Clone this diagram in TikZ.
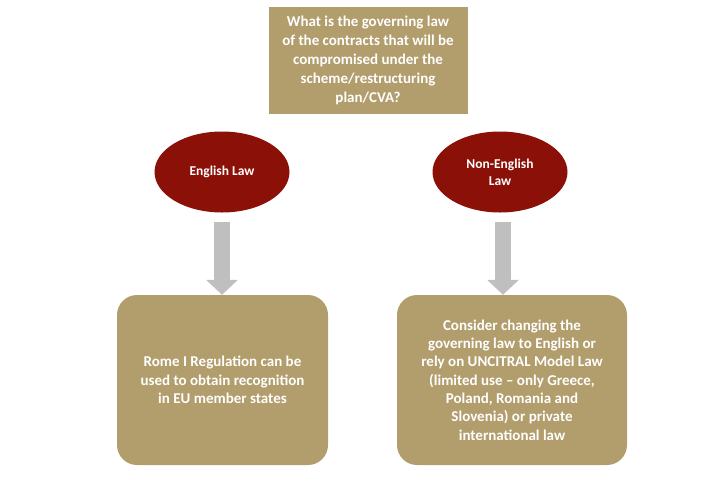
\documentclass[tikz,border=0pt]{standalone}
\usepackage{fontspec}
\setmainfont{Carlito}
\usetikzlibrary{shapes.geometric,arrows.meta,positioning}
\definecolor{boxtan}{RGB}{178,157,108}
\definecolor{lawred}{RGB}{139,17,8}
\definecolor{arrowgray}{RGB}{191,191,191}
\begin{document}
\begin{tikzpicture}[x=1pt,y=1pt,line join=round,
  font=\bfseries\fontsize{15}{19}\selectfont,
  question/.style={fill=boxtan,text=white,align=center,minimum width=199,minimum height=107,inner sep=0},
  lawnode/.style={ellipse,fill=lawred,text=white,align=center,minimum width=135,minimum height=81,inner sep=0,
    font=\bfseries\fontsize{13.5}{17}\selectfont},
  outcome/.style={fill=boxtan,text=white,align=center,rounded corners=20,minimum height=170,inner sep=0,
    font=\bfseries\fontsize{15}{18.3}\selectfont},
  bigarrow/.style={arrowgray,line width=16,shorten <=9,-{Triangle[width=31,length=15]}}]
\useasboundingbox (0,0) rectangle (726,-483);
% question and the two cases
\node[question] (q) at (368,-60) {What is the governing law\\of the contracts that will be\\compromised under the\\scheme/restructuring\\plan/CVA?};
\node[lawnode] (eng) at (222,-172) {English Law};
\node[lawnode] (noneng) at (500,-172) {Non-English\\Law};
% outcomes
\node[outcome,minimum width=211] (rome) at (222.5,-380) {Rome I Regulation can be\\used to obtain recognition\\in EU member states};
\node[outcome,minimum width=230] (change) at (512,-380) {Consider changing the\\governing law to English or\\rely on UNCITRAL Model Law\\(limited use -- only Greece,\\Poland, Romania and\\Slovenia) or private\\international law};
\draw[bigarrow] (eng.south) -- (eng.south |- rome.north);
\draw[bigarrow] ([xshift=3]noneng.south) -- ([xshift=3]noneng.south |- change.north);
\end{tikzpicture}
\end{document}
